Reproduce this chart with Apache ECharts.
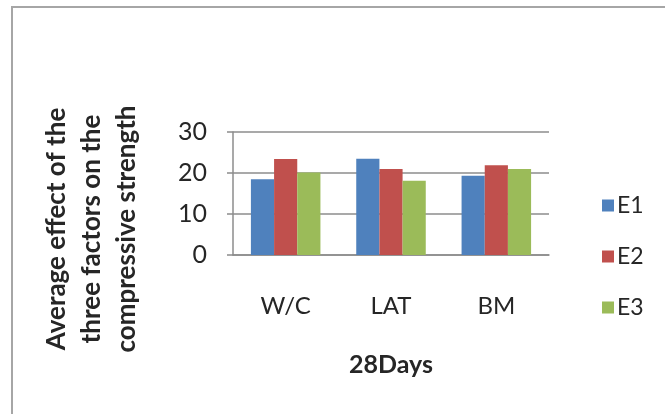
<!DOCTYPE html>
<html>
<head>
<meta charset="utf-8">
<script src="https://cdn.jsdelivr.net/npm/echarts@6/dist/echarts.min.js"></script>
<style>
  html, body { margin: 0; padding: 0; background: #fff; }
  #chart { width: 665px; height: 414px; }
</style>
</head>
<body>
<div id="chart"></div>
<script>
// Factor levels and their average effect on compressive strength at 28 days
const categories = ['W/C', 'LAT', 'BM'];
const seriesNames = ['E1', 'E2', 'E3'];
const e1 = [18.5, 23.5, 19.3];
const e2 = [23.4, 21.0, 21.9];
const e3 = [20.1, 18.1, 21.0];
const yTicks = [0, 10, 20, 30];

const colors = ['#4f81bd', '#c0504d', '#9bbb59'];
const font = 'Lato, "Open Sans", sans-serif';
const textColor = '#262626';

const chart = echarts.init(document.getElementById('chart'), null, { renderer: 'canvas' });

chart.setOption({
  animation: false,
  backgroundColor: '#ffffff',
  color: colors,
  textStyle: { fontFamily: font },
  graphic: [
    {
      type: 'rect',
      shape: { x: 12, y: 7, width: 700, height: 460 },
      style: { fill: 'none', stroke: '#a6a6a6', lineWidth: 2 },
      silent: true
    },
    {
      type: 'text',
      x: 92,
      y: 229,
      rotation: Math.PI / 2,
      style: {
        text: 'Average effect of the\nthree factors on the\ncompressive strength',
        fontFamily: font,
        fontWeight: 'bold',
        fontSize: 26,
        lineHeight: 35,
        fill: textColor,
        align: 'center',
        verticalAlign: 'middle'
      }
    }
  ],
  grid: { left: 233, right: 116, top: 132, bottom: 159, containLabel: false },
  legend: {
    orient: 'vertical',
    left: 597,
    top: 189,
    itemWidth: 12,
    itemHeight: 12,
    itemGap: 28,
    icon: 'rect',
    data: seriesNames,
    textStyle: { fontFamily: font, fontSize: 23, color: textColor, padding: [0, 0, 0, -2] }
  },
  xAxis: {
    type: 'category',
    data: categories,
    name: '28Days',
    nameLocation: 'middle',
    nameGap: 97,
    nameTextStyle: { fontFamily: font, fontWeight: 'bold', fontSize: 25, color: textColor },
    axisLine: { show: true, lineStyle: { color: '#8c8c8c', width: 1.5 } },
    axisTick: { show: false },
    axisLabel: { fontFamily: font, fontSize: 24, color: textColor, margin: 39 }
  },
  yAxis: {
    type: 'value',
    min: yTicks[0],
    max: yTicks[yTicks.length - 1],
    interval: 10,
    axisLine: { show: true, lineStyle: { color: '#8c8c8c', width: 1.5 } },
    axisTick: { show: true, inside: false, length: 6, lineStyle: { color: '#8c8c8c', width: 1.5 } },
    splitLine: { show: true, lineStyle: { color: '#8c8c8c', width: 1.5 } },
    axisLabel: { fontFamily: font, fontSize: 25, color: textColor, margin: 26 }
  },
  series: [
    { name: seriesNames[0], type: 'bar', data: e1, barGap: '0%', barCategoryGap: '34%' },
    { name: seriesNames[1], type: 'bar', data: e2, barGap: '0%', barCategoryGap: '34%' },
    { name: seriesNames[2], type: 'bar', data: e3, barGap: '0%', barCategoryGap: '34%' }
  ]
});
</script>
</body>
</html>
